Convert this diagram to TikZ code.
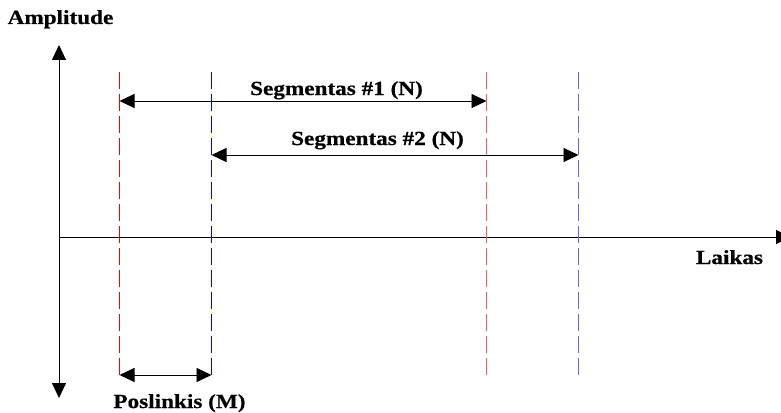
\documentclass[tikz,border=0pt]{standalone}
\usepackage{fontspec}
\newfontfamily\lblfont{Liberation Serif Bold}[FakeStretch=1.16,FakeBold=0.6]
\usetikzlibrary{arrows.meta}
\definecolor{lred}{RGB}{255,0,0}
\definecolor{lblue}{RGB}{0,0,255}
\definecolor{segred}{RGB}{255,90,90}
\definecolor{segblue}{RGB}{100,100,255}
\tikzset{
  lbl/.style={font=\lblfont\fontsize{20}{24}\selectfont, anchor=base, inner sep=0pt},
  axis/.style={line width=0.9pt, -{Triangle[length=15pt,width=14pt]}},
  dimarrow/.style={line width=0.9pt, {Triangle[length=15pt,width=14pt]}-{Triangle[length=15pt,width=14pt]}},
  bound/.style={line width=1.1pt, dash pattern=on 17pt off 5pt}
}
\begin{document}
\begin{tikzpicture}[x=1pt,y=-1pt]
\useasboundingbox (0,0) rectangle (781,412);
% axes
\coordinate (o) at (59,237);
\coordinate (ytop) at (59,45);
\coordinate (ybot) at (59,398);
\coordinate (xend) at (791,237);
\draw[axis] (o) -- (ytop);
\draw[axis] (o) -- (ybot);
\draw[axis] (o) -- (xend);
% boundaries
\coordinate (a1) at (119.5,72);  \coordinate (a2) at (119.5,375);
\coordinate (b1) at (211.5,72);  \coordinate (b2) at (211.5,375);
\coordinate (c1) at (486.5,72);  \coordinate (c2) at (486.5,375);
\coordinate (d1) at (578.5,72);  \coordinate (d2) at (578.5,375);
\draw[bound, draw=lred] (a1) -- (a2);
\draw[bound, draw=lblue] (b1) -- (b2);
\draw[bound, draw=segred] (c1) -- (c2);
\draw[bound, draw=segblue] (d1) -- (d2);
% dimension arrows
\coordinate (s1l) at (119.5,101); \coordinate (s1r) at (486.5,101);
\coordinate (s2l) at (211.5,155); \coordinate (s2r) at (578.5,155);
\draw[dimarrow] (s1l) -- (s1r);
\draw[dimarrow] (s2l) -- (s2r);
\draw[dimarrow] (a2) -- (b2);
% labels
\node[lbl] (amp) at (60.5,24) {Amplitude};
\node[lbl] (seg1) at (336.5,95) {Segmentas \#1 (N)};
\node[lbl] (seg2) at (377.5,145) {Segmentas \#2 (N)};
\node[lbl] (pos) at (179.5,408) {Poslinkis (M)};
\node[lbl] (laik) at (729.5,264) {Laikas};
\end{tikzpicture}
\end{document}
